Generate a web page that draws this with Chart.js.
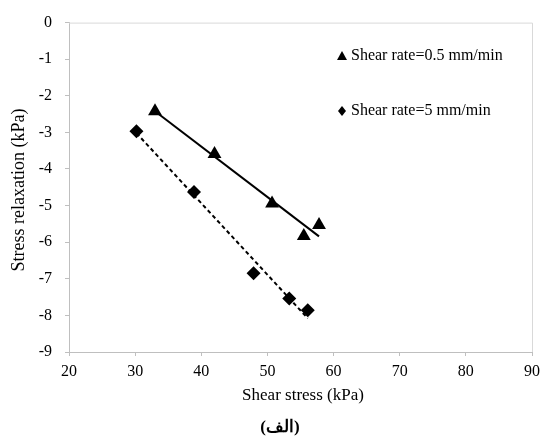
<!DOCTYPE html>
<html>
<head>
<meta charset="utf-8">
<script src="https://cdn.jsdelivr.net/npm/chart.js@4/dist/chart.umd.min.js"></script>
<style>
  html, body { margin: 0; padding: 0; background: #fff; }
  #wrap { width: 546px; height: 439px; position: relative; }
</style>
</head>
<body>
<div id="wrap"><canvas id="chart" width="546" height="439"></canvas></div>
<script>
// values
var slowStress = [33.0, 42.0, 50.7, 55.5, 57.8];
var slowRelax = [-2.42, -3.59, -4.94, -5.83, -5.53];
var fastStress = [30.2, 38.9, 47.9, 53.3, 56.1];
var fastRelax = [-2.97, -4.63, -6.85, -7.54, -7.86];
// trend line end points, as drawn
var slowTrendX = [33.0, 57.8];
var slowTrendY = [-2.42, -5.84];
var fastTrendX = [30.2, 56.1];
var fastTrendY = [-3.02, -8.08];

var seriesNames = ['Shear rate=0.5 mm/min', 'Shear rate=5 mm/min'];
var xTitle = 'Shear stress (kPa)';
var yTitle = 'Stress relaxation (kPa)';
var caption = '(الف)';

var serif = "'Liberation Serif', 'Times New Roman', serif";

function pts(xs, ys) {
    return xs.map((x, i) => ({ x: x, y: ys[i] }));
}

// frame, legend and titles drawn on the canvas
var extras = {
    id: 'extras',
    beforeDatasetsDraw(chart) {
        var ctx = chart.ctx, a = chart.chartArea;
        ctx.save();
        ctx.strokeStyle = '#d9d9d9';
        ctx.lineWidth = 1;
        ctx.beginPath();
        ctx.moveTo(a.left, a.top + 0.5);
        ctx.lineTo(a.right + 0.5, a.top + 0.5);
        ctx.lineTo(a.right + 0.5, a.bottom);
        ctx.stroke();
        ctx.restore();
    },
    afterDraw(chart) {
        var ctx = chart.ctx, a = chart.chartArea;
        ctx.save();
        ctx.fillStyle = '#000';
        // legend
        ctx.font = '16px ' + serif;
        ctx.textBaseline = 'middle';
        ctx.textAlign = 'left';
        // triangle
        ctx.beginPath();
        ctx.moveTo(342, 51);
        ctx.lineTo(347, 60);
        ctx.lineTo(337, 60);
        ctx.closePath();
        ctx.fill();
        ctx.fillText(seriesNames[0], 351, 56);
        // diamond
        ctx.beginPath();
        ctx.moveTo(342, 106);
        ctx.lineTo(346, 111);
        ctx.lineTo(342, 116);
        ctx.lineTo(338, 111);
        ctx.closePath();
        ctx.fill();
        ctx.fillText(seriesNames[1], 351, 111);

        // axis titles
        ctx.font = '17px ' + serif;
        ctx.textAlign = 'center';
        ctx.fillText(xTitle, 303, 396);
        ctx.font = 'bold 17px ' + serif;
        ctx.fillText(caption, 280, 428);
        ctx.font = '18px ' + serif;
        ctx.translate(19, 190);
        ctx.rotate(-Math.PI / 2);
        ctx.fillText(yTitle, 0, 0);
        ctx.restore();
    }
};

new Chart(document.getElementById('chart'), {
    type: 'scatter',
    data: {
        datasets: [{
            label: seriesNames[0],
            data: pts(slowStress, slowRelax),
            pointStyle: 'triangle',
            pointRadius: 8,
            backgroundColor: '#000',
            borderColor: '#000',
            borderWidth: 0
        },
        {
            label: seriesNames[1],
            data: pts(fastStress, fastRelax),
            pointStyle: 'rectRot',
            pointRadius: 7,
            backgroundColor: '#000',
            borderColor: '#000',
            borderWidth: 0
        },
        {
            label: 'trend 0.5',
            data: pts(slowTrendX, slowTrendY),
            showLine: true,
            pointRadius: 0,
            borderColor: '#000',
            borderWidth: 2
        },
        {
            label: 'trend 5',
            data: pts(fastTrendX, fastTrendY),
            showLine: true,
            pointRadius: 0,
            borderColor: '#000',
            borderWidth: 2,
            borderDash: [4, 3]
        }]
    },
    options: {
        responsive: false,
        animation: false,
        devicePixelRatio: 1,
        layout: { padding: { top: 17, right: 7, left: 0, bottom: 0 } },
        plugins: {
            legend: { display: false },
            tooltip: { enabled: false }
        },
        scales: {
            x: {
                type: 'linear',
                min: 20,
                max: 90,
                afterFit: s => { s.height = 87; },
                border: { color: '#bfbfbf', width: 1 },
                grid: { drawOnChartArea: false, drawTicks: true, tickLength: 4, color: '#bfbfbf' },
                ticks: { stepSize: 10, padding: 6, color: '#000', font: { family: serif, size: 16 } }
            },
            y: {
                type: 'linear',
                min: -9,
                max: 0,
                afterFit: s => { s.width = 69; },
                border: { color: '#bfbfbf', width: 1 },
                grid: { drawOnChartArea: false, drawTicks: true, tickLength: 4, color: '#bfbfbf' },
                ticks: { stepSize: 1, padding: 13, color: '#000', font: { family: serif, size: 16 } }
            }
        }
    },
    plugins: [extras]
});
</script>
</body>
</html>
